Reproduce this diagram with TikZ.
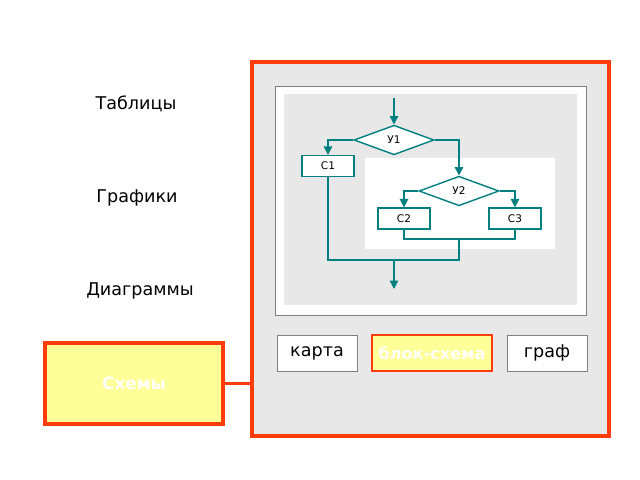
\documentclass[tikz,border=0pt]{standalone}
\usepackage{fontspec}
\setmainfont{DejaVu Sans}
\usepackage{tikz}
\usetikzlibrary{positioning, shapes.geometric, arrows.meta}
\definecolor{framered}{RGB}{255,60,10}
\definecolor{paleyellow}{RGB}{255,255,153}
\definecolor{panelgray}{RGB}{232,232,232}
\definecolor{flowteal}{RGB}{0,128,128}
\tikzstyle{bigframe} = [rectangle, draw=framered, line width=2.6pt, fill=panelgray]
\tikzstyle{panel} = [rectangle, draw=gray, line width=0.6pt, fill=white]
\tikzstyle{choice} = [rectangle, draw=gray, line width=0.6pt, fill=white, minimum width=2cm, minimum height=0.9cm, font=\fontsize{12.5}{15}\selectfont]
\tikzstyle{chosen} = [rectangle, draw=framered, line width=1.6pt, fill=paleyellow, text=white, inner sep=1pt, minimum width=3cm, minimum height=0.9cm, font=\fontsize{11.5}{14}\selectfont\bfseries]
\tikzstyle{topic} = [font=\fontsize{12.5}{15}\selectfont]
\tikzstyle{block} = [rectangle, draw=flowteal, line width=1pt, fill=white, minimum width=1.3cm, minimum height=0.52cm, font=\fontsize{7.5}{9}\selectfont]
\tikzstyle{cond} = [diamond, draw=flowteal, line width=1pt, fill=white, inner sep=0pt, minimum width=2cm, minimum height=0.74cm, font=\fontsize{7.5}{9}\selectfont]
\tikzstyle{arrow} = [draw=flowteal, line width=1pt, -{Triangle[length=6pt,width=6pt]}]
\tikzstyle{line} = [draw=flowteal, line width=1pt]
\begin{document}
\begin{tikzpicture}[x=0.025cm, y=-0.025cm]
		\useasboundingbox (0,0) rectangle (640,480);
		%左侧标题
		\node (tables) [topic] at (136,104) {Таблицы};
		\node (graphs) [topic] at (137,198) {Графики};
		\node (diagrams) [topic] at (140,291) {Диаграммы};
		\node (schemes) [rectangle, draw=framered, line width=2.6pt, fill=paleyellow, text=white, minimum width=4.45cm, minimum height=2.025cm, font=\fontsize{12}{14}\selectfont\bfseries] at (134,383.5) {Схемы};
		
		%右侧框
		\node (frame) [bigframe, minimum width=8.925cm, minimum height=9.35cm] at (430.5,249) {};
		\node (panel) [panel, minimum width=7.775cm, minimum height=5.725cm] at (430.5,200.5) {};
		\node (inner) [rectangle, fill=panelgray, minimum width=7.325cm, minimum height=5.275cm] at (430.5,199.5) {};
		\node (sub) [rectangle, fill=white, minimum width=4.75cm, minimum height=2.275cm] at (460,203.5) {};
		\draw [draw=framered, line width=2.6pt] (schemes.east) -- (schemes.east -| frame.west);
		
		%选项
		\node (map) [choice] at (317,353) {карта};
		\node (flow) [chosen] at (432,353) {блок-схема};
		\node (graph) [choice] at (547,353) {граф};
		
		%流程图
		\node (y1) [cond] at (394,140) {У1};
		\node (c1) [block] at (328,166) {С1};
		\node (y2) [cond] at (459,191) {У2};
		\node (c2) [block] at (404,218.5) {С2};
		\node (c3) [block] at (515,218.5) {С3};
		\coordinate (in) at (394,98);
		\coordinate (m2) at (459,239);
		\coordinate (j) at (459,260);
		\coordinate (m1) at (394,260);
		\coordinate (out) at (394,289);
		
		\draw [arrow] (in) -- (y1.north);
		\draw [arrow] (y1.west) -| (c1.north);
		\draw [arrow] (y1.east) -| (y2.north);
		\draw [arrow] (y2.west) -| (c2.north);
		\draw [arrow] (y2.east) -| (c3.north);
		\draw [line] (c2.south) |- (m2) -| (c3.south);
		\draw [line] (c1.south) |- (j) -- (m2);
		\draw [arrow] (m1) -- (out);
		
	\end{tikzpicture}
\end{document}
